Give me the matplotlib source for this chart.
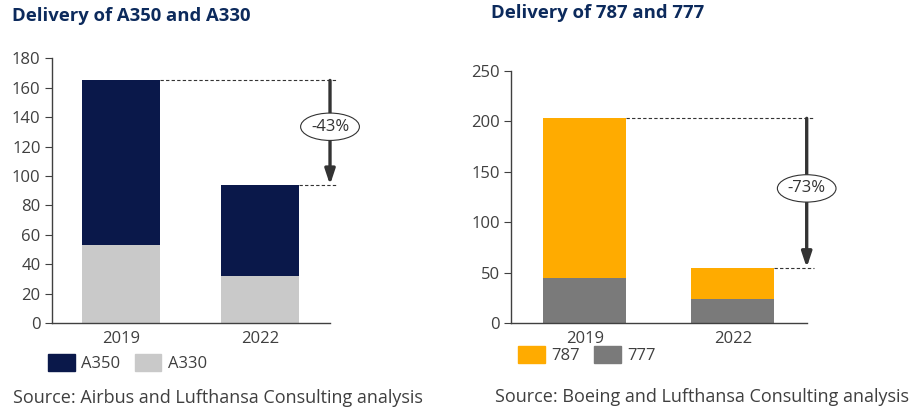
import matplotlib
matplotlib.use('Agg')
import matplotlib.pyplot as plt
from matplotlib.patches import Patch
import numpy as np

years = ['2019', '2022']
a350 = [112, 62]
a330 = [53, 32]
b787 = [158, 31]
b777 = [45, 24]

navy = '#0a184a'
light_grey = '#c9c9c9'
orange = '#ffab00'
dark_grey = '#7a7a7a'
txt = '#3f3f3f'
title_col = '#0c2a5c'

plt.rcParams['font.family'] = ['Open Sans', 'DejaVu Sans']

fig = plt.figure(figsize=(9.19, 4.16), dpi=100)
ax1 = fig.add_axes([0.0563, 0.2236, 0.3028, 0.636])
ax2 = fig.add_axes([0.556, 0.2236, 0.3218, 0.6058])

x = np.arange(len(years))
w = 0.56


def style(ax, ymax, step):
    ax.set_xlim(-0.5, 1.5)
    ax.set_ylim(0, ymax)
    ax.set_yticks(np.arange(0, ymax + 1, step))
    ax.set_xticks(x)
    ax.set_xticklabels(years)
    for s in ['top', 'right']:
        ax.spines[s].set_visible(False)
    for s in ['left', 'bottom']:
        ax.spines[s].set_color('#404040')
        ax.spines[s].set_linewidth(1.0)
    ax.tick_params(axis='y', colors='#404040', labelcolor=txt, labelsize=12,
                   length=5, direction='out', pad=3)
    ax.tick_params(axis='x', length=0, labelcolor=txt, labelsize=12, pad=6)


def drop(ax, top, low, label, ylab):
    xa = 1.5
    ax.plot([0 + w / 2, xa + 0.05], [top, top], ls=(0, (3, 2)), color='#333333',
            lw=0.8, clip_on=False)
    ax.plot([1 + w / 2, xa + 0.05], [low, low], ls=(0, (3, 2)), color='#333333',
            lw=0.8, clip_on=False)
    ax.annotate('', xy=(xa, low), xytext=(xa, top),
                arrowprops=dict(arrowstyle='-|>,head_width=0.3,head_length=0.9',
                                color='#333333', lw=2.4, shrinkA=0, shrinkB=0),
                annotation_clip=False)
    ax.text(xa, ylab, label, ha='center', va='center', fontsize=12,
            color='#333333',
            bbox=dict(boxstyle='ellipse,pad=0.1', fc='white',
                      ec='#333333', lw=0.8), clip_on=False)


# left chart
ax1.bar(x, a330, w, color=light_grey)
ax1.bar(x, a350, w, bottom=a330, color=navy)
style(ax1, 180, 20)
tot1 = [a + b for a, b in zip(a350, a330)]
pct1 = round((tot1[1] / tot1[0] - 1) * 100)
drop(ax1, tot1[0], tot1[1], f'{pct1}%', 133.5)

# right chart
ax2.bar(x, b777, w, color=dark_grey)
ax2.bar(x, b787, w, bottom=b777, color=orange)
style(ax2, 250, 50)
tot2 = [a + b for a, b in zip(b787, b777)]
pct2 = round((tot2[1] / tot2[0] - 1) * 100)
drop(ax2, tot2[0], tot2[1], f'{pct2}%', 133.5)

fig.text(12 / 919, 1 - 16 / 416, 'Delivery of A350 and A330', fontsize=13.3,
         fontweight='bold', color=title_col, va='center', ha='left')
fig.text(491 / 919, 1 - 13 / 416, 'Delivery of 787 and 777', fontsize=13.3,
         fontweight='bold', color=title_col, va='center', ha='left')

leg_kw = dict(ncol=2, frameon=False, fontsize=12, handlelength=1.6,
              handleheight=1.25, handletextpad=0.4, columnspacing=0.85,
              labelcolor=txt, borderpad=0, borderaxespad=0)
fig.legend(handles=[Patch(color=navy, label='A350'),
                    Patch(color=light_grey, label='A330')],
           loc='center left', bbox_to_anchor=(48 / 919, 1 - 363 / 416), **leg_kw)
fig.legend(handles=[Patch(color=orange, label='787'),
                    Patch(color=dark_grey, label='777')],
           loc='center left', bbox_to_anchor=(518 / 919, 1 - 355 / 416), **leg_kw)

fig.text(13 / 919, 1 - 398 / 416, 'Source: Airbus and Lufthansa Consulting analysis',
         fontsize=13, color=txt, va='center', ha='left')
fig.text(495 / 919, 1 - 397 / 416, 'Source: Boeing and Lufthansa Consulting analysis',
         fontsize=13, color=txt, va='center', ha='left')

fig.savefig('out.png', dpi=100)
